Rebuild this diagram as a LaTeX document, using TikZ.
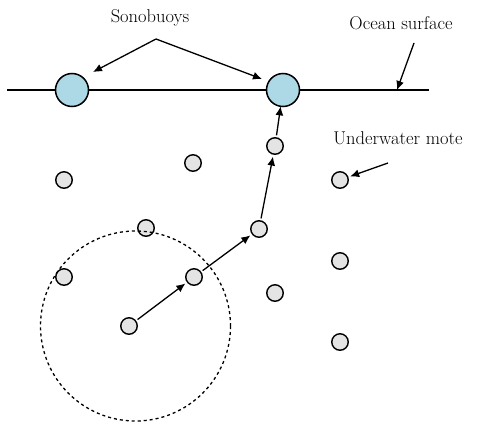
\documentclass[tikz,border=0pt]{standalone}
\usepackage{fontspec}
\usetikzlibrary{arrows.meta}
\begin{document}
\begin{tikzpicture}[x=1pt,y=-1pt,
  buoy/.style={circle,draw,line width=1.5pt,fill={rgb,255:red,173;green,216;blue,230},minimum size=33pt,inner sep=0pt,outer sep=0pt},
  mote/.style={circle,draw,line width=1.4pt,fill={rgb,255:red,228;green,228;blue,228},minimum size=16.5pt,inner sep=0pt,outer sep=2.5pt},
  lbl/.style={font=\fontsize{18.5}{22}\selectfont,inner sep=0pt},
  arr/.style={line width=1.3pt,-{Latex[length=9pt,width=8pt]}}]
\useasboundingbox (0,0) rectangle (478,423);
% ocean surface
\coordinate (sl) at (7,90);
\coordinate (sr) at (429,90);
\node[buoy] (b1) at (72,90) {};
\node[buoy] (b2) at (283,90) {};
\draw[line width=1.3pt] (sl) -- (b1) (b1) -- (b2) (b2) -- (sr);
% motes
\node[mote] (m1) at (64,180) {};
\node[mote] (m2) at (193,163) {};
\node[mote] (m3) at (275,146) {};
\node[mote] (m4) at (340,180) {};
\node[mote] (m5) at (146,228) {};
\node[mote] (m6) at (259,229) {};
\node[mote] (m7) at (64,277) {};
\node[mote] (m8) at (194,277) {};
\node[mote] (m9) at (340,261) {};
\node[mote] (m10) at (275,293) {};
\node[mote] (m11) at (129,326) {};
\node[mote] (m12) at (340,342) {};
% dashed radio range
\draw[line width=1.3pt,dash pattern=on 3pt off 3pt] (135.5,326) circle (95);
% route
\draw[arr] (m11) -- (m8);
\draw[arr] (m8) -- (m6);
\draw[arr] (m6) -- (m3);
\draw[arr] (m3) -- (b2);
% labels
\node[lbl] (ts) at (150,18) {Sonobuoys};
\coordinate (sa) at (156,39);
\coordinate (sa1) at (93,72);
\coordinate (sa2) at (262,79);
\draw[arr] (sa) -- (sa1);
\draw[arr] (sa) -- (sa2);
\node[lbl] (to) at (401,23) {Ocean surface};
\coordinate (oa) at (414,43);
\coordinate (ob) at (397,90);
\draw[arr] (oa) -- (ob);
\node[lbl] (tu) at (398,138) {Underwater mote};
\coordinate (ua) at (388,163);
\draw[arr] (ua) -- (m4);
\end{tikzpicture}
\end{document}
